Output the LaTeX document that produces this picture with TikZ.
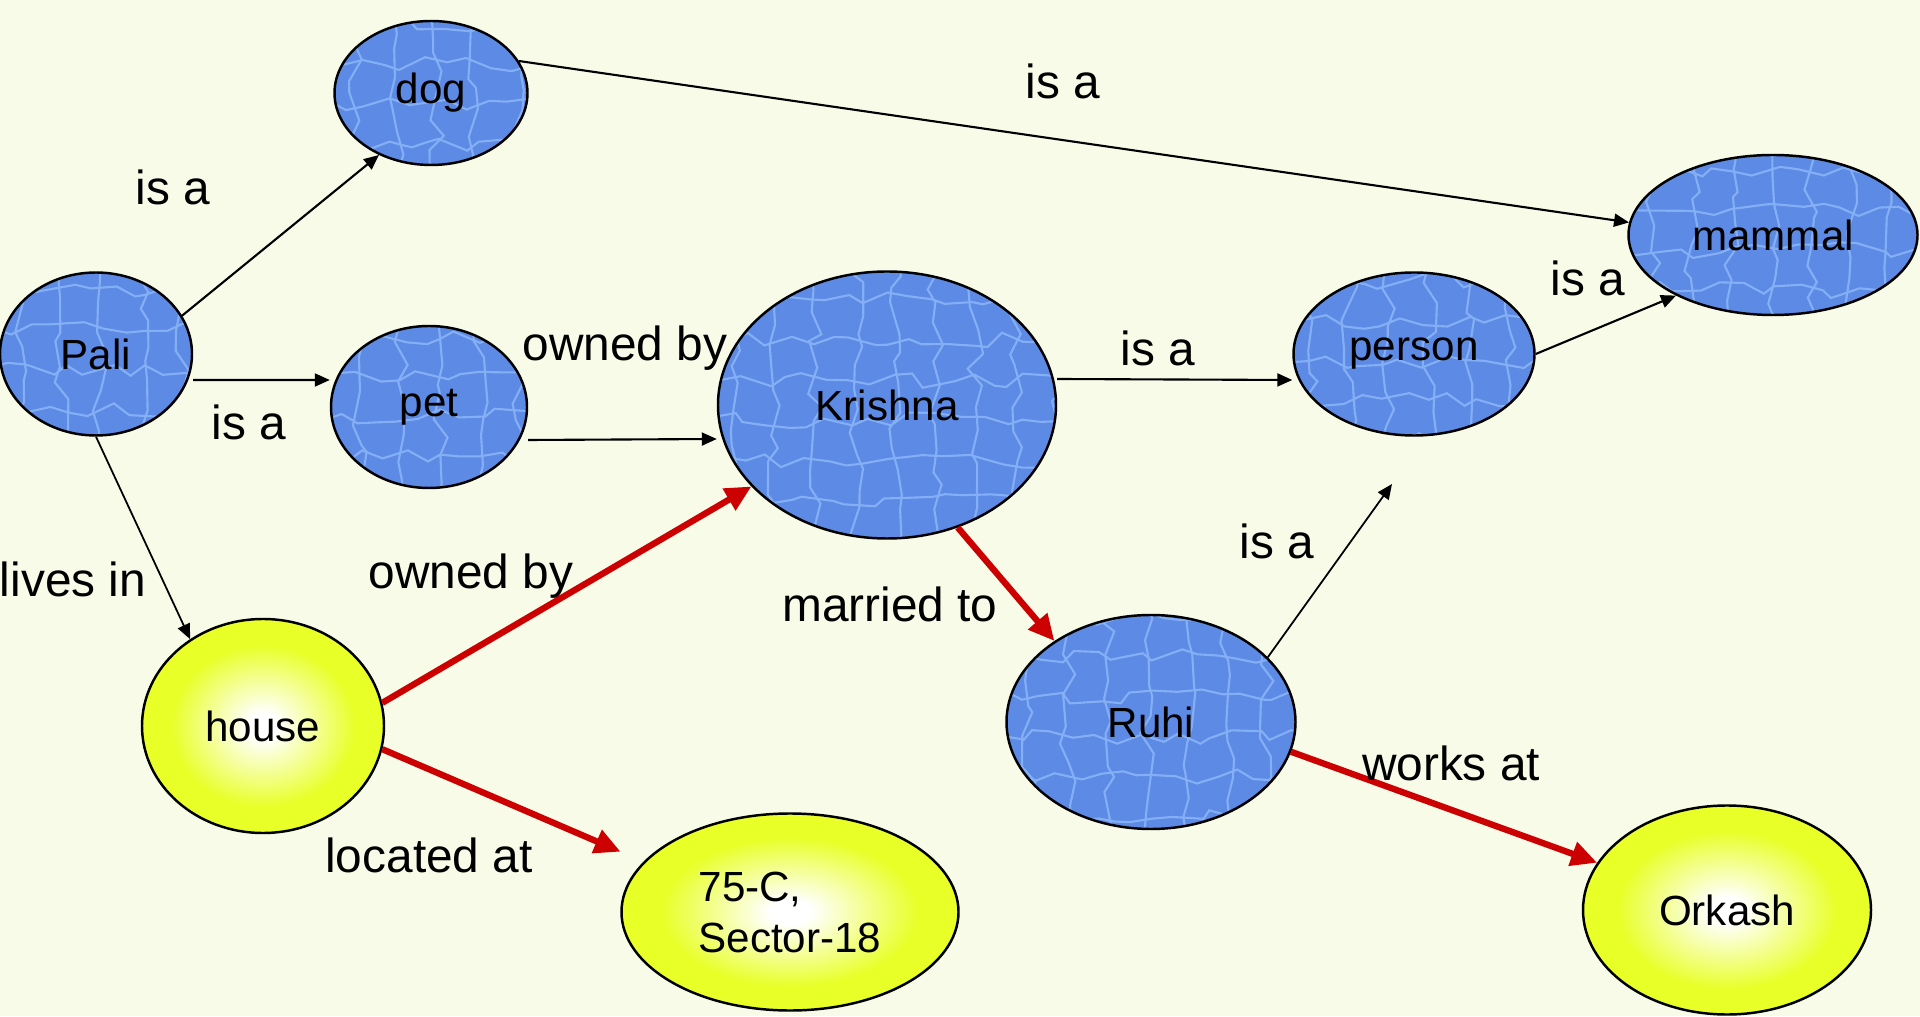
\documentclass[tikz,border=0pt]{standalone}
\usepackage{fontspec}
\setmainfont{Liberation Sans}
\usepackage{tikz}
\usetikzlibrary{shapes.geometric, arrows.meta, positioning, decorations.pathmorphing}
\definecolor{pagecream}{RGB}{248, 251, 232}
\definecolor{waterblue}{RGB}{92, 138, 228}
\definecolor{waterhi}{RGB}{150, 192, 252}
\definecolor{linkred}{RGB}{204, 0, 0}
\definecolor{ballyellow}{RGB}{232, 255, 40}
\pgfdeclareradialshading{yellowball}{\pgfpoint{0bp}{0bp}}{color(0bp)=(white); color(3bp)=(white); color(19bp)=(ballyellow); color(50bp)=(ballyellow)}
\pgfmathsetseed{11}

\begin{document}
\begin{tikzpicture}[
    concept/.style={ellipse, draw, line width=0.7pt, inner sep=0pt, align=center, font=\fontsize{12}{14.5}\selectfont},
    water/.style={concept, fill=waterblue, path picture={
        \draw[waterhi, line width=0.6pt, opacity=0.7, decorate, decoration={random steps, segment length=2mm, amplitude=0.8mm}]
          ([shift={(-3mm,-3mm)}]path picture bounding box.south west) grid[step=4mm] ([shift={(3mm,3mm)}]path picture bounding box.north east);
    }},
    ball/.style={concept, shading=yellowball},
    rel/.style={font=\fontsize{13.6}{16}\selectfont},
    isa/.style={-{Triangle[length=1.5mm, width=1.3mm]}, line width=0.6pt},
    link/.style={-{Triangle[length=2.6mm, width=2.4mm]}, line width=1.8pt, linkred}
]
\fill[pagecream] (0,0) rectangle (19.2,10.16);
\useasboundingbox (0,0) rectangle (19.2,10.16);

% concepts
\node[water, minimum width=1.93cm, minimum height=1.44cm] (dog) at (4.31,9.23) {dog};
\node[water, minimum width=1.92cm, minimum height=1.63cm] (Pali) at (0.96,6.62) {Pali};
\node[water, minimum width=1.96cm, minimum height=1.62cm] (pet) at (4.29,6.09) {pet};
\node[water, minimum width=3.38cm, minimum height=2.67cm] (Krishna) at (8.87,6.11) {Krishna};
\node[water, minimum width=2.41cm, minimum height=1.63cm] (person) at (14.14,6.62) {person};
\node[water, minimum width=2.89cm, minimum height=1.60cm] (mammal) at (17.73,7.81) {mammal};
\node[water, minimum width=2.89cm, minimum height=2.14cm] (Ruhi) at (11.51,2.94) {Ruhi};
\node[ball, minimum width=2.42cm, minimum height=2.14cm] (house) at (2.63,2.90) {house};
\node[ball, minimum width=3.37cm, minimum height=1.97cm, align=left] (sector) at (7.90,1.04) {75-C,\\Sector-18};
\node[ball, minimum width=2.88cm, minimum height=2.09cm] (Orkash) at (17.27,1.06) {Orkash};
\coordinate (ruhiup) at (13.92,5.32);

% is-a links
\draw[isa] (Pali.24) -- (dog.230);
\draw[isa] ([yshift=-2.6mm]Pali.east) -- ([yshift=2.7mm]pet.west);
\draw[isa] ([yshift=-3.3mm]pet.east) -- ([yshift=-3.4mm]Krishna.west);
\draw[isa, line width=0.5pt] (Pali.south) -- (house.130);
\draw[isa] (dog.20) -- (mammal.175);
\draw[isa] ([yshift=2.6mm]Krishna.east) -- ([yshift=-2.6mm]person.west);
\draw[isa] (person.east) -- (mammal.212);
\draw[isa, line width=0.5pt] (Ruhi.29) -- (ruhiup);

% strong links
\draw[link] (house.11) -- (Krishna.211);
\draw[link, shorten >=2.5mm] (house.-11) -- (sector.161);
\draw[link] (Krishna.-60) -- (Ruhi.140);
\draw[link] (Ruhi.-12) -- (Orkash.160);

% labels
\node[rel] (l1) at (1.73,8.29) {is a};
\node[rel] (l2) at (2.49,5.94) {is a};
\node[rel] (l3) at (6.25,6.68) {owned by};
\node[rel] (l4) at (0.73,4.37) {lives in};
\node[rel] (l5) at (10.63,9.35) {is a};
\node[rel] (l6) at (11.58,6.68) {is a};
\node[rel] (l7) at (15.88,7.38) {is a};
\node[rel] (l8) at (12.77,4.75) {is a};
\node[rel] (l9) at (4.71,4.40) {owned by};
\node[rel] (l10) at (4.29,1.61) {located at};
\node[rel] (l11) at (8.90,4.12) {married to};
\node[rel] (l12) at (14.51,2.53) {works at};
\end{tikzpicture}
\end{document}
